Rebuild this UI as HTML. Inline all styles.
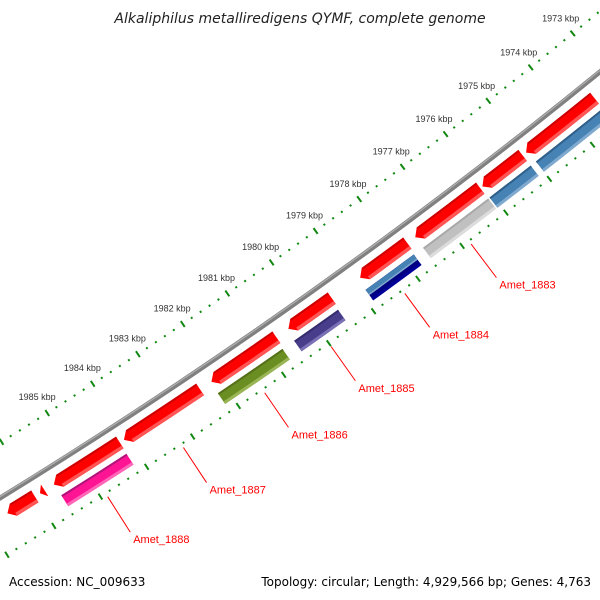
<!DOCTYPE html>
<html><head><meta charset="utf-8"><style>
html,body{margin:0;padding:0;background:#fff}
svg{display:block;font-family:"Liberation Sans",sans-serif}
</style></head><body>
<svg id="chart" width="600" height="600" viewBox="0 0 600 600" xmlns="http://www.w3.org/2000/svg">
<rect width="600" height="600" fill="#fff"/>
<text x="300" y="23" text-anchor="middle" font-size="14" font-style="italic" fill="#222" style="font-family:'DejaVu Sans',sans-serif">Alkaliphilus metalliredigens QYMF, complete genome</text>
<text x="9" y="586" font-size="12" fill="#000" style="font-family:'DejaVu Sans',sans-serif">Accession: NC_009633</text>
<text x="591" y="586" text-anchor="end" font-size="12" fill="#000" style="font-family:'DejaVu Sans',sans-serif">Topology: circular; Length: 4,929,566 bp; Genes: 4,763</text>
<g id="layer"></g>
</svg>
<script>
// ---- data (kbp) ----
const tickKbp = [1972,1973,1974,1975,1976,1977,1978,1979,1980,1981,1982,1983,1984,1985,1986,1987];
const labeledKbp = [1973,1974,1975,1976,1977,1978,1979,1980,1981,1982,1983,1984,1985];
const redLow  = [1972.5,1973.44,1975.12,1976.10,1977.77,1979.48,1980.72,1982.41,1984.17,1985.80,1986.01];
const redHigh = [1973.24,1975.04,1976.05,1977.59,1978.84,1980.45,1982.16,1984.08,1985.60,1985.90,1986.60];
const ring2Low  = [1972.5,1975.12,1976.10,1977.80,1979.51,1980.75,1984.18];
const ring2High = [1975.0,1976.07,1977.59,1978.89,1980.49,1982.18,1985.59];
const ring2Names = ['blue-a','blue-b','gray','navy','purple','green','pink'];
const geneLabels = ['Amet_1883','Amet_1884','Amet_1885','Amet_1886','Amet_1887','Amet_1888'];
const geneLabelKbp = [1976.85,1978.35,1980.0,1981.47,1983.25,1984.89];

// ---- geometry ----
const CX=-2906, CY=-4228;
const R_BACK=5548, R_RULER_IN=5501, R_RULER_OUT=5600;
function th(k){return (57.53+(k-1985)*0.563)*Math.PI/180;}
function pt(r,t){return [CX+r*Math.cos(t), CY+r*Math.sin(t)];}
function f(p){return p[0].toFixed(2)+' '+p[1].toFixed(2);}
const NS='http://www.w3.org/2000/svg';
const layer=document.getElementById('layer');
function el(tag,attrs,parent){const e=document.createElementNS(NS,tag);for(const k in attrs)e.setAttribute(k,attrs[k]);(parent||layer).appendChild(e);return e;}
function band(r1,r2,t1,t2){
  return 'M'+f(pt(r2,t1))+' A'+r2+' '+r2+' 0 0 1 '+f(pt(r2,t2))+' L'+f(pt(r1,t2))+' A'+r1+' '+r1+' 0 0 0 '+f(pt(r1,t1))+' Z';
}
function arcPath(r,t1,t2){return 'M'+f(pt(r,t1))+' A'+r+' '+r+' 0 0 1 '+f(pt(r,t2));}

// backbone
const bb=el('path',{d:arcPath(R_BACK,th(1971),th(1988)),stroke:'#808080','stroke-width':5,fill:'none'});


const bb2=el('path',{d:arcPath(R_BACK-1.2,th(1971),th(1988)),stroke:'#b0b0b0','stroke-width':1.2,fill:'none'});



// rulers
function ruler(r,name,withLabels){
  const g=el('g',{});
  
  
  for(let i=0;i<tickKbp.length;i++){
    for(let j=0;j<5;j++){
      const k=tickKbp[i]+j*0.2;
      const t=th(k);
      const len=j===0?3.5:1;
      const line=el('path',{d:'M'+f(pt(r-len,t))+' L'+f(pt(r+len,t)),stroke:'#118811','stroke-width':2},g);
      
      
    }
  }
  if(withLabels){
    for(const k of labeledKbp){
      const p=pt(r-19,th(k));
      const tx=el('text',{x:p[0].toFixed(1),y:(p[1]+3).toFixed(1),'text-anchor':'middle','font-size':9,fill:'#333'},g);
      tx.textContent=k+' kbp';
      
      
    }
  }
}
ruler(R_RULER_IN,'inner-ruler',true);
ruler(R_RULER_OUT,'outer-ruler',false);

// red features (arrow at high-kbp end)
const RED_IN=5558, RED_OUT=5572;
for(let i=0;i<redLow.length;i++){
  const t1=th(redLow[i]), t2=th(redHigh[i]);
  const head=Math.min(7/R_BACK,(t2-t1));
  const tb=t2-head, rm=(RED_IN+RED_OUT)/2;
  const d='M'+f(pt(RED_IN,t1))+' A'+RED_IN+' '+RED_IN+' 0 0 1 '+f(pt(RED_IN,tb))+' L'+f(pt(rm,t2))+' L'+f(pt(RED_OUT,tb))+' A'+RED_OUT+' '+RED_OUT+' 0 0 0 '+f(pt(RED_OUT,t1))+' Z';
  const g=el('g',{});
  
  
  el('path',{d:d,fill:'#ff0000'},g);
  if(tb>t1){
    el('path',{d:band(RED_IN,RED_IN+2,t1,tb),fill:'#cc0000'},g);
    el('path',{d:band(RED_OUT-3.5,RED_OUT,t1,tb),fill:'#ff5555'},g);
  }
}

// second ring features
const R2_IN=5578, R2_OUT=5591;
const ring2Fill={'blue-a':'#4682b4','blue-b':'#4682b4','gray':'#c0c0c0','navy':'#000080','purple':'#483d8b','green':'#6b8e23','pink':'#ff1493'};
const ring2Dark={'blue-a':'#2f5f8a','blue-b':'#2f5f8a','gray':'#a8a8a8','navy':'#000060','purple':'#352c70','green':'#557018','pink':'#b0157a'};
const ring2Light={'blue-a':'#7fa9cf','blue-b':'#7fa9cf','gray':'#dcdcdc','navy':'#000099','purple':'#7a70b5','green':'#9ab555','pink':'#ff66b8'};
for(let i=0;i<ring2Low.length;i++){
  const t1=th(ring2Low[i]), t2=th(ring2High[i]);
  const n=ring2Names[i];
  const g=el('g',{});
  
  
  el('path',{d:band(R2_IN,R2_OUT,t1,t2),fill:ring2Fill[n]},g);
  el('path',{d:band(R2_IN,R2_IN+2,t1,t2),fill:ring2Dark[n]},g);
  el('path',{d:band(R2_OUT-3,R2_OUT,t1,t2),fill:ring2Light[n]},g);
  if(n==='navy'){
    el('path',{d:band(R2_IN,R2_IN+6,t1,t2),fill:'#4682b4'},g);
    el('path',{d:band(R2_IN+5,R2_IN+6.5,t1,t2),fill:'#7fa9cf'},g);
  }
}

// gene labels
for(let i=0;i<geneLabels.length;i++){
  const t=th(geneLabelKbp[i]);
  const a=pt(5604,t), b=pt(5646,t);
  const g=el('g',{});
  
  
  el('path',{d:'M'+f(a)+' L'+f(b),stroke:'#ff0000','stroke-width':1},g);
  const tx=el('text',{x:(b[0]+3).toFixed(1),y:(b[1]+11).toFixed(1),'font-size':11,fill:'#ff0000'},g);
  tx.textContent=geneLabels[i];
}
</script>
</body></html>
